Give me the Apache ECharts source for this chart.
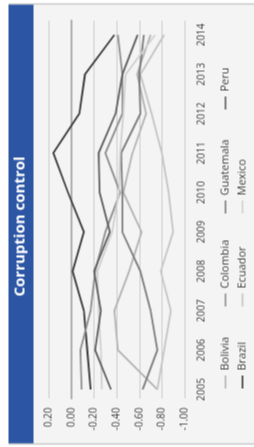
<!DOCTYPE html>
<html><head><meta charset="utf-8">
<script src="https://cdn.jsdelivr.net/npm/echarts@6/dist/echarts.min.js"></script>
<style>
html,body{margin:0;padding:0;background:#fff;overflow:hidden;width:254px;height:447px;}
#wrap{position:absolute;left:-96.5px;top:96.5px;width:447px;height:254px;transform:rotate(-90deg);transform-origin:50% 50%;}
#chart{width:447px;height:254px;}
</style></head><body>
<div id="wrap"><div id="chart"></div></div>
<script>
const titleText = 'Corruption control';
const years = ['2005','2006','2007','2008','2009','2010','2011','2012','2013','2014'];
const valueMin = -1.0, valueMax = 0.2, valueStep = 0.2;

const bolivia   = [-0.76, -0.41, -0.38, -0.51, -0.62, -0.46, -0.54, -0.66, -0.58, -0.70];
const brazil    = [-0.17, -0.14, -0.11, -0.01, -0.11,  0.03,  0.16, -0.07, -0.12, -0.38];
const colombia  = [-0.09, -0.08, -0.17, -0.21, -0.30, -0.43, -0.30, -0.45, -0.45, -0.41];
const ecuador   = [-0.76, -0.82, -0.88, -0.79, -0.90, -0.86, -0.80, -0.71, -0.61, -0.82];
const guatemala = [-0.63, -0.76, -0.70, -0.61, -0.45, -0.45, -0.44, -0.61, -0.60, -0.64];
const mexico    = [-0.27, -0.26, -0.24, -0.23, -0.36, -0.42, -0.43, -0.46, -0.48, -0.74];
const peru      = [-0.35, -0.21, -0.26, -0.20, -0.34, -0.25, -0.24, -0.39, -0.45, -0.585];

const seriesDefs = [
  {name:'Bolivia', data:bolivia, color:'#b3b3b3'},
  {name:'Brazil', data:brazil, color:'#3a3a3a'},
  {name:'Colombia', data:colombia, color:'#8f8f8f'},
  {name:'Ecuador', data:ecuador, color:'#c4c4c4'},
  {name:'Guatemala', data:guatemala, color:'#7d7d7d'},
  {name:'Mexico', data:mexico, color:'#d0d0d0'},
  {name:'Peru', data:peru, color:'#5e5e5e'}
];
const legendCols = [['Bolivia','Brazil'],['Colombia','Ecuador'],['Guatemala','Mexico'],['Peru']];
const legendLefts = [59, 141, 234, 338];

const FONT = '"Open Sans", "Noto Sans", sans-serif';
const chart = echarts.init(document.getElementById('chart'), null, {renderer:'canvas'});

const option = {
  backgroundColor: '#ffffff',
  animation: false,
  textStyle: {fontFamily: FONT},
  title: {
    text: titleText, left: 151, top: 12.5, padding: 0,
    textStyle: {color:'#ffffff', fontSize:15, fontWeight:'bold', fontFamily: FONT}
  },
  graphic: {elements: [
    {type:'rect', z:-10, shape:{x:3, y:8, width:441, height:246}, style:{fill:'#f4f4f4'}},
    {type:'rect', z:-9, shape:{x:3, y:8, width:441, height:25}, style:{fill:'#2c55a4'}},
    {type:'line', z:-8, shape:{x1:3.5, y1:8, x2:3.5, y2:254}, style:{stroke:'#c8c8c8', lineWidth:1.5}},
    {type:'line', z:-8, shape:{x1:443.5, y1:8, x2:443.5, y2:254}, style:{stroke:'#c8c8c8', lineWidth:1.5}}
  ]},
  legend: legendCols.map((col, i) => ({
    data: col.map(n => ({name: n, icon: 'rect'})), orient:'vertical', left: legendLefts[i], top: 218, padding: 0,
    itemWidth: 13, itemHeight: 1.6, itemGap: 3, selectedMode: false,
    textStyle: {fontSize: 11, lineHeight: 14, color:'#404040', fontFamily: FONT}
  })),
  grid: [
    {left:49, right:20, top:48.3, bottom:70},
    {left:58, right:34.4, top:48.3, bottom:70}
  ],
  xAxis: [
    {gridIndex:0, type:'value', min:0, max:1,
     axisLine:{show:true, onZero:true, lineStyle:{color:'#b0b0b0', width:2}},
     axisTick:{show:false}, axisLabel:{show:false}, splitLine:{show:false}},
    {gridIndex:1, type:'category', data: years, boundaryGap:false,
     axisLine:{show:false}, axisTick:{show:false}, splitLine:{show:false},
     axisLabel:{fontSize:10, color:'#404040', margin:12, fontFamily: FONT}}
  ],
  yAxis: [
    {gridIndex:0, type:'value', min:valueMin, max:valueMax, interval:valueStep,
     axisLine:{show:false}, axisTick:{show:false},
     axisLabel:{fontSize:10, color:'#404040', margin:9, fontFamily: FONT, formatter: v => v.toFixed(2)},
     splitLine:{show:true, lineStyle:{color:'#cccccc', width:1}}},
    {gridIndex:1, type:'value', min:valueMin, max:valueMax, interval:valueStep, show:false, splitLine:{show:false}}
  ],
  series: seriesDefs.map(s => ({
    name: s.name, type:'line', xAxisIndex:1, yAxisIndex:1, data: s.data,
    symbol:'none', color: s.color, lineStyle:{color: s.color, width:1.8}
  }))
};
chart.setOption(option);
</script>
</body></html>
